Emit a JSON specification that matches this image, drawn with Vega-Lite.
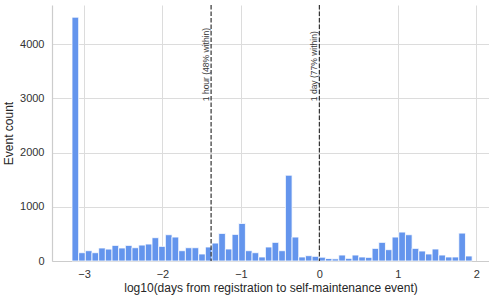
{
  "$schema": "https://vega.github.io/schema/vega-lite/v6.json",
  "autosize": {"type": "none"},
  "padding": {"left": 52, "top": 5, "right": 0, "bottom": 40},
  "width": 437,
  "height": 256,
  "background": "white",
  "config": {
    "view": {"stroke": null},
    "font": "Liberation Sans",
    "axis": {
      "labelFont": "Liberation Sans",
      "titleFont": "Liberation Sans",
      "labelFontSize": 11,
      "titleFontSize": 12,
      "titleFontWeight": "normal",
      "labelColor": "#333333",
      "titleColor": "#262626",
      "gridColor": "#dcdcdc",
      "gridWidth": 1,
      "domainColor": "#cccccc",
      "domainWidth": 1.2,
      "ticks": false
    }
  },
  "layer": [
    {
      "data": {"values": [
        {"start": -3.153, "end": -3.068, "count": 4500},
        {"start": -3.068, "end": -2.983, "count": 153},
        {"start": -2.983, "end": -2.898, "count": 190},
        {"start": -2.898, "end": -2.813, "count": 153},
        {"start": -2.813, "end": -2.728, "count": 240},
        {"start": -2.728, "end": -2.643, "count": 220},
        {"start": -2.643, "end": -2.558, "count": 288},
        {"start": -2.558, "end": -2.473, "count": 240},
        {"start": -2.473, "end": -2.388, "count": 288},
        {"start": -2.388, "end": -2.303, "count": 245},
        {"start": -2.303, "end": -2.218, "count": 294},
        {"start": -2.218, "end": -2.133, "count": 313},
        {"start": -2.133, "end": -2.048, "count": 430},
        {"start": -2.048, "end": -1.963, "count": 270},
        {"start": -1.963, "end": -1.878, "count": 485},
        {"start": -1.878, "end": -1.793, "count": 442},
        {"start": -1.793, "end": -1.708, "count": 190},
        {"start": -1.708, "end": -1.623, "count": 245},
        {"start": -1.623, "end": -1.538, "count": 245},
        {"start": -1.538, "end": -1.453, "count": 129},
        {"start": -1.453, "end": -1.368, "count": 258},
        {"start": -1.368, "end": -1.283, "count": 331},
        {"start": -1.283, "end": -1.198, "count": 509},
        {"start": -1.198, "end": -1.113, "count": 221},
        {"start": -1.113, "end": -1.028, "count": 491},
        {"start": -1.028, "end": -0.943, "count": 693},
        {"start": -0.943, "end": -0.858, "count": 190},
        {"start": -0.858, "end": -0.773, "count": 153},
        {"start": -0.773, "end": -0.688, "count": 74},
        {"start": -0.688, "end": -0.603, "count": 258},
        {"start": -0.603, "end": -0.518, "count": 344},
        {"start": -0.518, "end": -0.433, "count": 190},
        {"start": -0.433, "end": -0.348, "count": 1583},
        {"start": -0.348, "end": -0.263, "count": 442},
        {"start": -0.263, "end": -0.178, "count": 74},
        {"start": -0.178, "end": -0.093, "count": 98},
        {"start": -0.093, "end": -0.008, "count": 86},
        {"start": -0.008, "end": 0.077, "count": 70},
        {"start": 0.077, "end": 0.162, "count": 46},
        {"start": 0.162, "end": 0.247, "count": 40},
        {"start": 0.247, "end": 0.332, "count": 110},
        {"start": 0.332, "end": 0.417, "count": 49},
        {"start": 0.417, "end": 0.502, "count": 110},
        {"start": 0.502, "end": 0.587, "count": 74},
        {"start": 0.587, "end": 0.672, "count": 67},
        {"start": 0.672, "end": 0.757, "count": 233},
        {"start": 0.757, "end": 0.842, "count": 344},
        {"start": 0.842, "end": 0.927, "count": 209},
        {"start": 0.927, "end": 1.012, "count": 442},
        {"start": 1.012, "end": 1.097, "count": 534},
        {"start": 1.097, "end": 1.182, "count": 485},
        {"start": 1.182, "end": 1.267, "count": 233},
        {"start": 1.267, "end": 1.352, "count": 184},
        {"start": 1.352, "end": 1.437, "count": 129},
        {"start": 1.437, "end": 1.522, "count": 221},
        {"start": 1.522, "end": 1.607, "count": 110},
        {"start": 1.607, "end": 1.692, "count": 74},
        {"start": 1.692, "end": 1.777, "count": 74},
        {"start": 1.777, "end": 1.862, "count": 515},
        {"start": 1.862, "end": 1.947, "count": 92}
      ]},
      "mark": {"type": "bar", "color": "#6495ED", "stroke": "white", "strokeWidth": 0.8, "opacity": 1},
      "encoding": {
        "x": {
          "field": "start", "type": "quantitative",
          "scale": {"domain": [-3.408, 2.162], "nice": false, "zero": false},
          "axis": {"values": [-3, -2, -1, 0, 1, 2], "title": "log10(days from registration to self-maintenance event)", "labelPadding": 7, "titlePadding": 3, "format": "d"}
        },
        "x2": {"field": "end"},
        "y": {
          "field": "count", "type": "quantitative",
          "scale": {"domain": [0, 4725], "nice": false},
          "axis": {"values": [0, 1000, 2000, 3000, 4000], "title": "Event count", "labelPadding": 8, "titlePadding": 4, "format": "d"}
        },
        "y2": {"datum": 0}
      }
    },
    {
      "data": {"values": [
        {"x": -1.3802, "label": "1 hour (48% within)"},
        {"x": 0, "label": "1 day (77% within)"}
      ]},
      "layer": [
        {
          "mark": {"type": "rule", "color": "#333333", "strokeWidth": 1.2, "strokeDash": [4.5, 2]},
          "encoding": {"x": {"field": "x", "type": "quantitative"}}
        },
        {
          "mark": {"type": "text", "angle": 270, "align": "left", "baseline": "bottom", "fontSize": 8.5, "color": "#3a3a3a", "font": "Liberation Sans"},
          "encoding": {
            "x": {"field": "x", "type": "quantitative"},
            "y": {"datum": 2950, "type": "quantitative"},
            "text": {"field": "label"}
          }
        }
      ]
    }
  ]
}
